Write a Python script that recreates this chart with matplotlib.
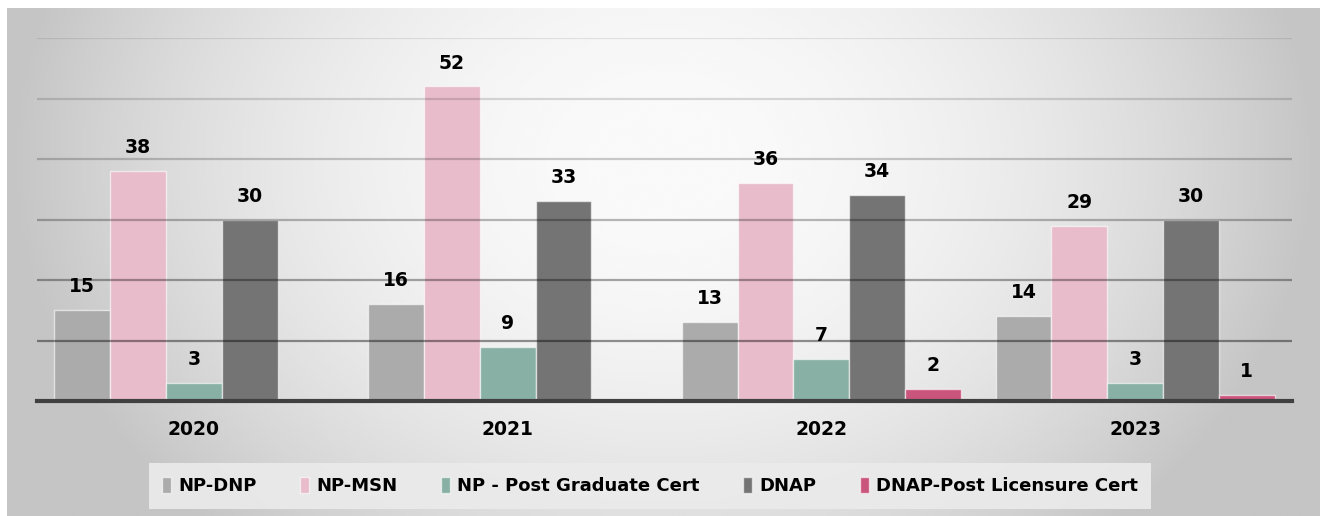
import matplotlib.pyplot as plt
import numpy as np

# Graduates per program by year
years = ['2020', '2021', '2022', '2023']
programs = ['NP-DNP', 'NP-MSN', 'NP - Post Graduate Cert', 'DNAP', 'DNAP-Post Licensure Cert']
np_dnp = [15, 16, 13, 14]
np_msn = [38, 52, 36, 29]
np_pgc = [3, 9, 7, 3]
dnap = [30, 33, 34, 30]
dnap_plc = [np.nan, np.nan, 2, 1]

series = [np_dnp, np_msn, np_pgc, dnap, dnap_plc]
colors = ['#ababab', '#e8bccb', '#88b0a5', '#747474', '#c9547c']

fig = plt.figure(figsize=(13.2, 5.16), dpi=100)
fig.patch.set_facecolor('white')

# soft grey backdrop, lighter toward the upper middle
bg = fig.add_axes([7 / 1320, 0, 1 - 7 / 1320, 1 - 8 / 516], zorder=0)
gx, gy = np.meshgrid(np.linspace(-1, 1, 400), np.linspace(-1, 1, 200))
r2 = gx ** 2 + ((gy + 0.4) / 2.0) ** 2
shade = 0.98 - 0.21 * np.clip(r2, 0, 1)
bg.imshow(shade, cmap='gray', vmin=0, vmax=1, aspect='auto', origin='upper',
          extent=[0, 1, 0, 1], interpolation='bicubic')
bg.set_axis_off()

ax = fig.add_axes([37 / 1320, 1 - 401 / 516, (1292 - 37) / 1320, (401 - 38) / 516], zorder=1)
ax.patch.set_alpha(0)

x = np.arange(len(years))
w = 0.178
for k, (vals, col, name) in enumerate(zip(series, colors, programs)):
    pos = x + (k - 2) * w
    ax.bar(pos, vals, w, color=col, edgecolor=(1, 1, 1, 0.6), linewidth=1,
           label=name, zorder=2)
    for p, v in zip(pos, vals):
        if np.isnan(v):
            continue
        ax.annotate(f'{v:g}', (p, v), xytext=(0, 10), textcoords='offset points',
                    ha='center', va='bottom', fontsize=13.5, fontweight='bold',
                    color='black', zorder=4)

ax.set_xlim(-0.5, 3.5)
ax.set_ylim(0, 60)
ax.set_yticks(np.arange(0, 61, 10))
ax.set_yticklabels([])
ax.tick_params(axis='y', length=0)
ax.tick_params(axis='x', length=0, pad=14)
ax.set_xticks(x)
ax.set_xticklabels(years, fontsize=13.5, fontweight='bold')

# gridlines darken toward the baseline
ax.yaxis.grid(True, zorder=3)
ax.set_axisbelow(False)
grid_alpha = [0.0, 0.42, 0.34, 0.27, 0.2, 0.14, 0.09]
for gl, a in zip(ax.yaxis.get_gridlines(), grid_alpha):
    gl.set_color('black')
    gl.set_alpha(a)
    gl.set_linewidth(1.6)
    gl.set_zorder(3)

for s in ['top', 'right', 'left']:
    ax.spines[s].set_visible(False)
ax.spines['bottom'].set_color('#404040')
ax.spines['bottom'].set_linewidth(3)
ax.spines['bottom'].set_zorder(5)

leg = fig.legend(loc='center', bbox_to_anchor=(650 / 1320, 1 - 486 / 516), ncol=5,
                 frameon=True, fancybox=False, handlelength=0.5, handleheight=1.0,
                 handletextpad=0.4, columnspacing=2.4, borderpad=0.75,
                 prop={'family': 'DejaVu Sans', 'weight': 'bold', 'size': 13})
leg.get_frame().set_facecolor('#ebebeb')
leg.get_frame().set_edgecolor('none')
leg.get_frame().set_alpha(0.9)
for h in leg.legend_handles:
    h.set_edgecolor((1, 1, 1, 0.6))

fig.savefig('out.png', dpi=100)
